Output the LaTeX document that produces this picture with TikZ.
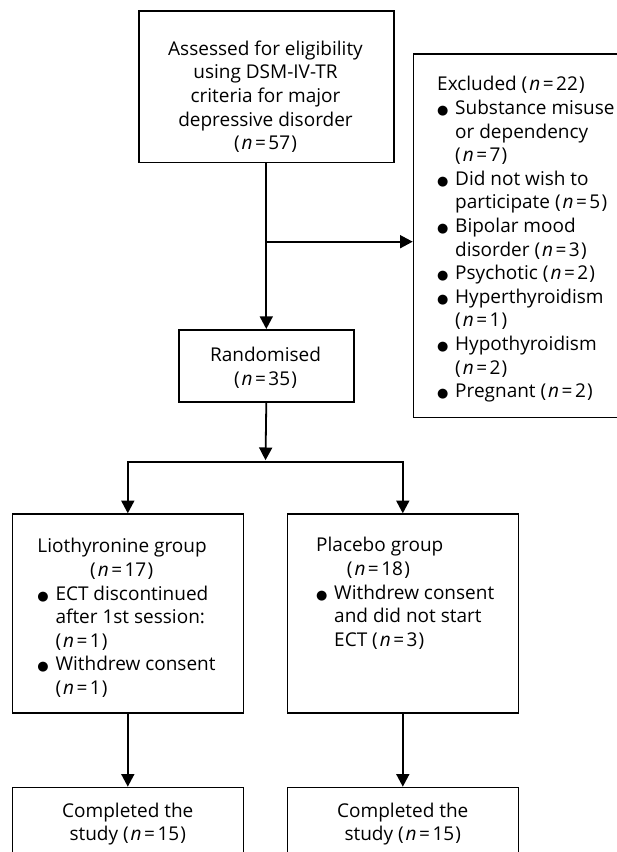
\documentclass[tikz,border=0pt]{standalone}
\usepackage{fontspec}
\setmainfont{Open Sans}
\newfontfamily\symfont{DejaVu Sans}
\usetikzlibrary{arrows.meta,calc}
\newcommand\bul{\makebox[18pt][l]{\raisebox{0pt}{\symfont\fontsize{13}{13}\selectfont ●}}}
\newcommand\ind{\hspace*{18pt}}
\newcommand\nn[1]{(\kern2pt\textit{n}\kern2.5pt=\kern2.5pt#1\kern1.2pt)}
\begin{document}
\begin{tikzpicture}[x=1pt,y=-1pt,
  box/.style={draw, line width=1.6pt, inner sep=0pt, anchor=north west},
  txt/.style={inner sep=0pt, font=\fontsize{19}{23.6}\selectfont},
  ln/.style={line width=1.8pt},
  arr/.style={line width=1.8pt, -{Triangle[length=12.7pt,width=13pt]}},
  arrs/.style={line width=1.8pt, {Triangle[length=12.7pt,width=13pt]}-{Triangle[length=12.7pt,width=13pt]}}]
\fill[white] (0,0) rectangle (617,852);
\useasboundingbox (0,0) rectangle (617,852);
\clip (0,0) rectangle (617,852);
% boxes
\node[box, minimum width=255pt, minimum height=151.7pt] (assess) at (138,10) {};
\node[box, minimum width=230pt, minimum height=363.4pt] (exc) at (412.7,53.3) {};
\node[box, minimum width=175pt, minimum height=72.3pt] (rand) at (178,329) {};
\node[box, minimum width=231pt, minimum height=199.1pt] (lio) at (11.5,513.3) {};
\node[box, minimum width=231pt, minimum height=199.1pt] (plac) at (286.5,513.3) {};
\node[box, minimum width=231pt, minimum height=100pt] (comp1) at (11.5,786.7) {};
\node[box, minimum width=231pt, minimum height=100pt] (comp2) at (286.5,786.7) {};
% texts
\node[txt, align=center, anchor=north] (assesst) at (265.5,38.5)
  {\strut Assessed for eligibility\\using DSM-IV-TR\\criteria for major\\depressive disorder\\\nn{57}};
\node[txt, align=left, anchor=north west] (exct) at (437,74.2)
  {\strut Excluded \nn{22}\\
   \bul Substance misuse\\
   \ind or dependency\\
   \ind \nn{7}\\
   \bul Did not wish to\\
   \ind participate \nn{5}\\
   \bul Bipolar mood\\
   \ind disorder \nn{3}\\
   \bul Psychotic \nn{2}\\
   \bul Hyperthyroidism\\
   \ind \nn{1}\\
   \bul Hypothyroidism\\
   \ind \nn{2}\\
   \bul Pregnant \nn{2}};
\node[txt, align=center, anchor=north] (randt) at (265.5,345.2)
  {\strut Randomised\\\nn{35}};
\node[txt, align=left, anchor=north west] (liot) at (37.3,536.2)
  {\strut Liothyronine group\\
   \hspace*{52.7pt}\nn{17}\\
   \bul ECT discontinued\\
   \ind after 1st session:\\
   \ind \nn{1}\\
   \bul Withdrew consent\\
   \ind \nn{1}};
\node[txt, align=left, anchor=north west] (plact) at (316,535.2)
  {\strut Placebo group\\
   \hspace*{30.7pt}\nn{18}\\
   \bul Withdrew consent\\
   \ind and did not start\\
   \ind ECT \nn{3}};
\node[txt, align=center, anchor=north] (comp1t) at (comp1.north |- 0,800.5)
  {\strut Completed the\\study \nn{15}};
\node[txt, align=center, anchor=north] (comp2t) at (comp2.north |- 0,800.5)
  {\strut Completed the\\study \nn{15}};
% connectors
\coordinate (j1) at (265.5,241.7);
\coordinate (j2) at (265.5,461.7);
\draw[arr] (assess.south) -- (rand.north);
\draw[arr] (j1) -- (j1 -| exc.west);
\draw[arr] (rand.south) -- ($(j2)+(0,-1.5)$);
\draw[arrs] (lio.north) -- (j2 -| lio.north) -- (j2 -| plac.north) -- (plac.north);
\draw[arr] (lio.south) -- (comp1.north);
\draw[arr] (plac.south) -- (comp2.north);
\end{tikzpicture}
\end{document}
